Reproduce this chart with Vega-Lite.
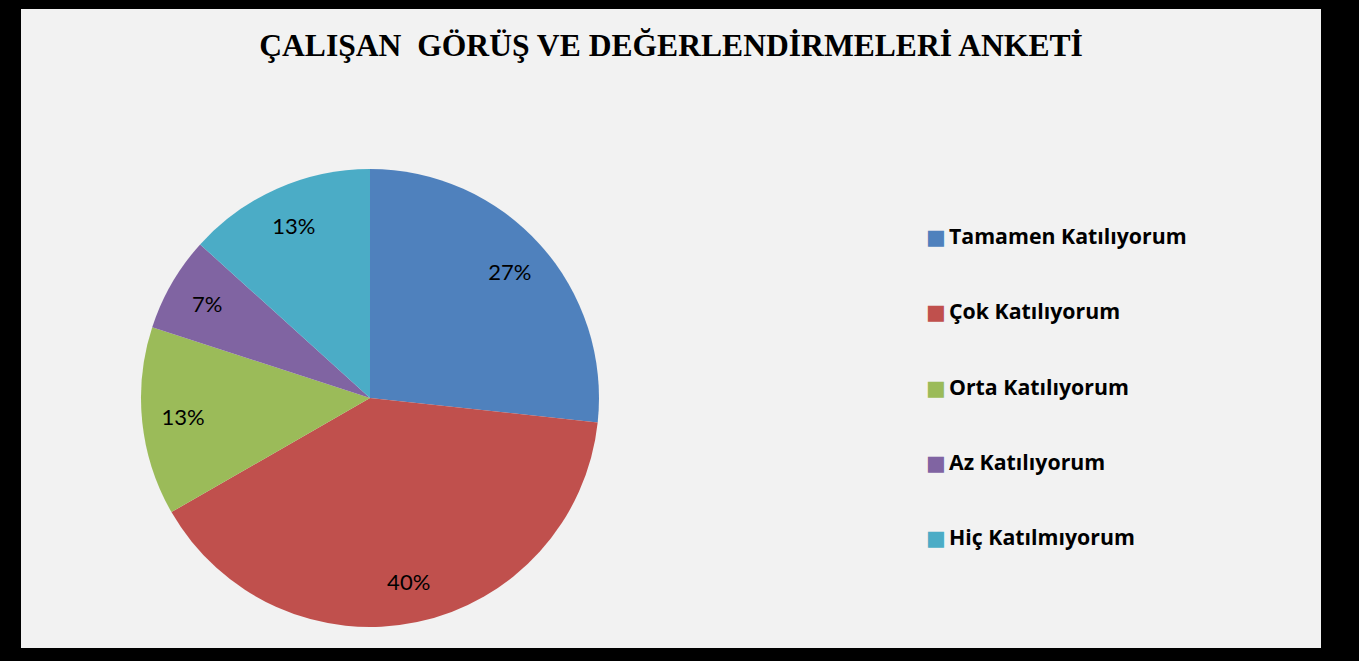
{
  "$schema": "https://vega.github.io/schema/vega-lite/v6.json",
  "background": "#000000",
  "padding": {"left": 21, "top": 9, "right": 38, "bottom": 13},
  "config": {"view": {"fill": "#f2f2f2", "stroke": null}, "concat": {"spacing": 0}},
  "datasets": {
    "d": [
      {"k": "Tamamen Katılıyorum", "v": 26.7, "label": "27%", "o": 1},
      {"k": "Çok Katılıyorum", "v": 40, "label": "40%", "o": 2},
      {"k": "Orta Katılıyorum", "v": 13.3, "label": "13%", "o": 3},
      {"k": "Az Katılıyorum", "v": 6.7, "label": "7%", "o": 4},
      {"k": "Hiç Katılmıyorum", "v": 13.3, "label": "13%", "o": 5}
    ],
    "t": [{"t": "ÇALIŞAN\u00a0 GÖRÜŞ VE DEĞERLENDİRMELERİ ANKETİ"}]
  },
  "spacing": 0,
  "vconcat": [
    {
      "width": 1300,
      "height": 139,
      "view": {"fill": "#f2f2f2", "stroke": null},
      "data": {"name": "t"},
      "mark": {"type": "text", "font": "Liberation Serif", "fontWeight": "bold", "fontSize": 31.6, "baseline": "alphabetic", "dy": -23, "fill": "#000000"},
      "encoding": {"text": {"field": "t"}}
    },
    {
      "spacing": 0,
      "hconcat": [
        {
          "width": 698,
          "height": 500,
          "view": {"fill": "#f2f2f2", "stroke": null},
          "data": {"name": "d"},
          "layer": [
            {
              "mark": {"type": "arc", "outerRadius": 229},
              "encoding": {
                "theta": {"field": "v", "type": "quantitative", "stack": true},
                "order": {"field": "o"},
                "color": {
                  "field": "k", "type": "nominal",
                  "scale": {"domain": ["Tamamen Katılıyorum", "Çok Katılıyorum", "Orta Katılıyorum", "Az Katılıyorum", "Hiç Katılmıyorum"], "range": ["#4f81bd", "#c0504d", "#9bbb59", "#8064a2", "#4bacc6"]},
                  "legend": null
                }
              }
            },
            {
              "mark": {"type": "text", "radius": 188, "font": "Lato", "fontSize": 22, "dy": 1, "fill": "#000000"},
              "encoding": {
                "theta": {"field": "v", "type": "quantitative", "stack": true},
                "order": {"field": "o"},
                "text": {"field": "label"}
              }
            }
          ]
        },
        {
          "width": 602,
          "height": 500,
          "view": {"fill": "#f2f2f2", "stroke": null},
          "data": {"name": "d"},
          "layer": [
            {
              "mark": {"type": "text", "text": "■", "font": "DejaVu Sans", "fontSize": 21, "dx": -84, "align": "center", "baseline": "middle"},
              "encoding": {
                "y": {"field": "o", "type": "quantitative", "scale": {"domain": [-0.196, 6.448], "reverse": true, "nice": false, "zero": false}, "axis": null},
                "color": {
                  "field": "k", "type": "nominal",
                  "scale": {"domain": ["Tamamen Katılıyorum", "Çok Katılıyorum", "Orta Katılıyorum", "Az Katılıyorum", "Hiç Katılmıyorum"], "range": ["#4f81bd", "#c0504d", "#9bbb59", "#8064a2", "#4bacc6"]},
                  "legend": null
                }
              }
            },
            {
              "mark": {"type": "text", "font": "Open Sans", "fontWeight": "bold", "fontSize": 21.3, "align": "left", "dx": -71, "baseline": "middle", "fill": "#000000"},
              "encoding": {
                "y": {"field": "o", "type": "quantitative", "scale": {"domain": [-0.196, 6.448], "reverse": true, "nice": false, "zero": false}, "axis": null},
                "text": {"field": "k"}
              }
            }
          ]
        }
      ]
    }
  ]
}
